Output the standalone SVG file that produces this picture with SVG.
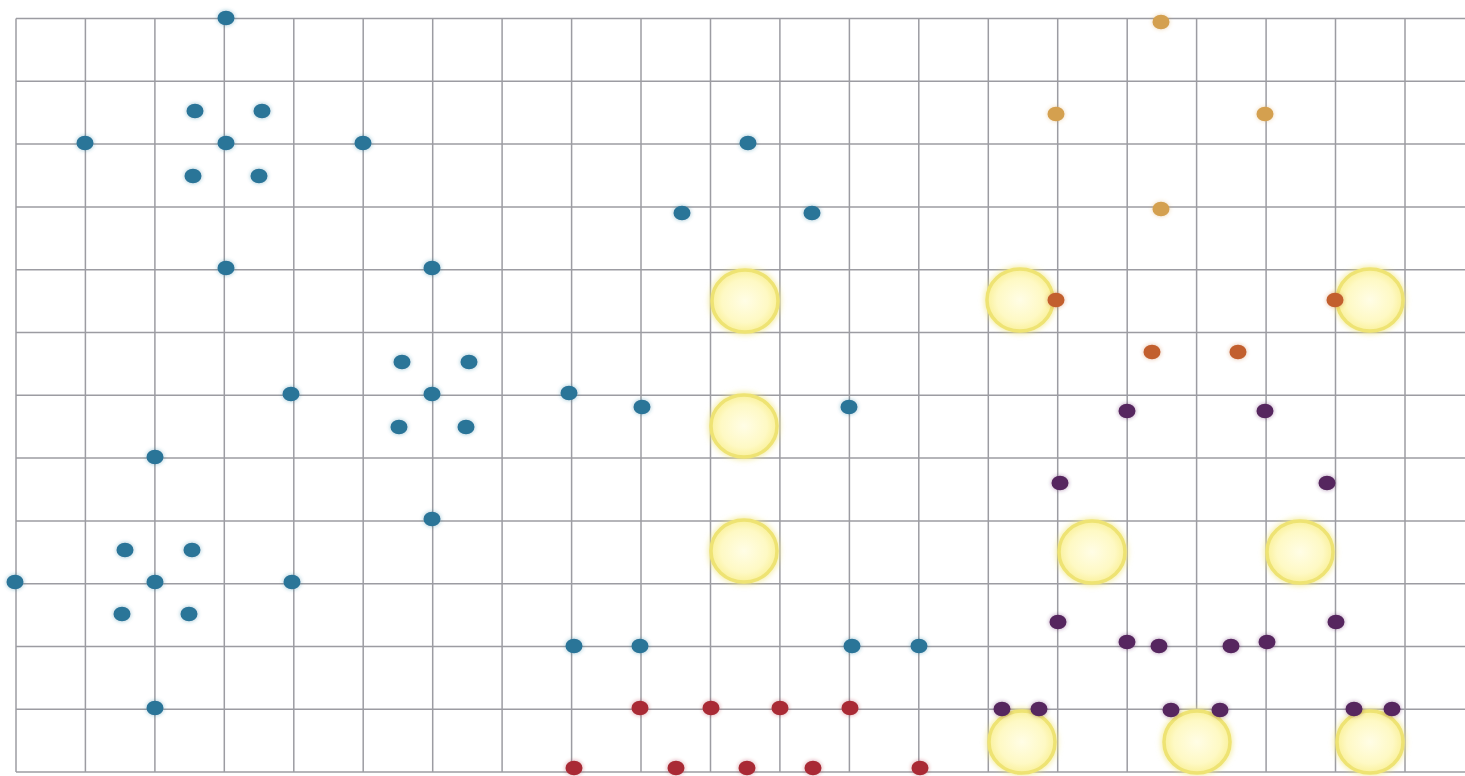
<svg xmlns="http://www.w3.org/2000/svg" width="1465" height="776" viewBox="0 0 1465 776">
<style>
.grid line{stroke:#9c9ca2;stroke-width:1.5}
.d{rx:8.5px;ry:7.3px;filter:url(#glow)}
.blue{fill:#2a7498}
.red{fill:#a92c36}
.tan{fill:#d4a04f}
.rust{fill:#c25f2e}
.purple{fill:#57265f}
.sun{fill:url(#sunfill);stroke:#eee373;stroke-width:3.5;filter:url(#sunglow)}
</style>
<defs>
<filter id="glow" x="-60%" y="-60%" width="220%" height="220%">
<feGaussianBlur in="SourceGraphic" stdDeviation="2.2" result="b"/>
<feComponentTransfer in="b" result="bb"><feFuncA type="linear" slope="0.45"/></feComponentTransfer>
<feMerge><feMergeNode in="bb"/><feMergeNode in="SourceGraphic"/></feMerge>
</filter>
<filter id="sunglow" x="-30%" y="-30%" width="160%" height="160%">
<feGaussianBlur in="SourceGraphic" stdDeviation="3" result="b"/>
<feMerge><feMergeNode in="b"/><feMergeNode in="SourceGraphic"/></feMerge>
</filter>
<radialGradient id="sunfill" cx="50%" cy="50%" r="50%">
<stop offset="0" stop-color="#fffde6"/>
<stop offset="0.7" stop-color="#fef9c4"/>
<stop offset="1" stop-color="#faf19c"/>
</radialGradient>
</defs>
<rect width="1465" height="776" fill="#ffffff"/>
<g id="grid" class="grid">
<line x1="16" y1="18.5" x2="1465" y2="18.5"/>
<line x1="16" y1="81.3" x2="1465" y2="81.3"/>
<line x1="16" y1="144.1" x2="1465" y2="144.1"/>
<line x1="16" y1="206.9" x2="1465" y2="206.9"/>
<line x1="16" y1="269.7" x2="1465" y2="269.7"/>
<line x1="16" y1="332.5" x2="1465" y2="332.5"/>
<line x1="16" y1="395.3" x2="1465" y2="395.3"/>
<line x1="16" y1="458.1" x2="1465" y2="458.1"/>
<line x1="16" y1="520.9" x2="1465" y2="520.9"/>
<line x1="16" y1="583.7" x2="1465" y2="583.7"/>
<line x1="16" y1="646.5" x2="1465" y2="646.5"/>
<line x1="16" y1="709.3" x2="1465" y2="709.3"/>
<line x1="16" y1="772.1" x2="1465" y2="772.1"/>
<line x1="16" y1="18.5" x2="16" y2="772"/>
<line x1="85.4" y1="18.5" x2="85.4" y2="772"/>
<line x1="154.9" y1="18.5" x2="154.9" y2="772"/>
<line x1="224.3" y1="18.5" x2="224.3" y2="772"/>
<line x1="293.8" y1="18.5" x2="293.8" y2="772"/>
<line x1="363.2" y1="18.5" x2="363.2" y2="772"/>
<line x1="432.7" y1="18.5" x2="432.7" y2="772"/>
<line x1="502.1" y1="18.5" x2="502.1" y2="772"/>
<line x1="571.6" y1="18.5" x2="571.6" y2="772"/>
<line x1="641" y1="18.5" x2="641" y2="772"/>
<line x1="710.5" y1="18.5" x2="710.5" y2="772"/>
<line x1="779.9" y1="18.5" x2="779.9" y2="772"/>
<line x1="849.4" y1="18.5" x2="849.4" y2="772"/>
<line x1="918.8" y1="18.5" x2="918.8" y2="772"/>
<line x1="988.3" y1="18.5" x2="988.3" y2="772"/>
<line x1="1057.7" y1="18.5" x2="1057.7" y2="772"/>
<line x1="1127.2" y1="18.5" x2="1127.2" y2="772"/>
<line x1="1196.6" y1="18.5" x2="1196.6" y2="772"/>
<line x1="1266.1" y1="18.5" x2="1266.1" y2="772"/>
<line x1="1335.5" y1="18.5" x2="1335.5" y2="772"/>
<line x1="1405" y1="18.5" x2="1405" y2="772"/>
</g>
<g id="connectors"></g>
<g id="suns">
<ellipse class="sun" cx="745" cy="301" rx="33" ry="31"/>
<ellipse class="sun" cx="744" cy="426" rx="33" ry="31"/>
<ellipse class="sun" cx="744" cy="551" rx="33" ry="31"/>
<ellipse class="sun" cx="1020" cy="300" rx="33" ry="31"/>
<ellipse class="sun" cx="1370" cy="300" rx="33" ry="31"/>
<ellipse class="sun" cx="1092" cy="552" rx="33" ry="31"/>
<ellipse class="sun" cx="1300" cy="552" rx="33" ry="31"/>
<ellipse class="sun" cx="1022" cy="742" rx="33" ry="31"/>
<ellipse class="sun" cx="1197" cy="742" rx="33" ry="31"/>
<ellipse class="sun" cx="1370" cy="742" rx="33" ry="31"/>
</g>
<g id="cluster-top-left" class="blue">
<ellipse class="d" cx="226" cy="18"/>
<ellipse class="d" cx="195" cy="111"/>
<ellipse class="d" cx="262" cy="111"/>
<ellipse class="d" cx="85" cy="143"/>
<ellipse class="d" cx="226" cy="143"/>
<ellipse class="d" cx="363" cy="143"/>
<ellipse class="d" cx="193" cy="176"/>
<ellipse class="d" cx="259" cy="176"/>
<ellipse class="d" cx="226" cy="268"/>
</g>
<g id="cluster-mid-left" class="blue">
<ellipse class="d" cx="432" cy="268"/>
<ellipse class="d" cx="402" cy="362"/>
<ellipse class="d" cx="469" cy="362"/>
<ellipse class="d" cx="291" cy="394"/>
<ellipse class="d" cx="432" cy="394"/>
<ellipse class="d" cx="399" cy="427"/>
<ellipse class="d" cx="466" cy="427"/>
<ellipse class="d" cx="432" cy="519"/>
</g>
<g id="cluster-bottom-left" class="blue">
<ellipse class="d" cx="155" cy="457"/>
<ellipse class="d" cx="125" cy="550"/>
<ellipse class="d" cx="192" cy="550"/>
<ellipse class="d" cx="15" cy="582"/>
<ellipse class="d" cx="155" cy="582"/>
<ellipse class="d" cx="292" cy="582"/>
<ellipse class="d" cx="122" cy="614"/>
<ellipse class="d" cx="189" cy="614"/>
<ellipse class="d" cx="155" cy="708"/>
</g>
<g id="cluster-middle" class="blue">
<ellipse class="d" cx="748" cy="143"/>
<ellipse class="d" cx="682" cy="213"/>
<ellipse class="d" cx="812" cy="213"/>
<ellipse class="d" cx="569" cy="393"/>
<ellipse class="d" cx="642" cy="407"/>
<ellipse class="d" cx="849" cy="407"/>
<ellipse class="d" cx="574" cy="646"/>
<ellipse class="d" cx="640" cy="646"/>
<ellipse class="d" cx="852" cy="646"/>
<ellipse class="d" cx="919" cy="646"/>
</g>
<g id="cluster-red" class="red">
<ellipse class="d" cx="640" cy="708"/>
<ellipse class="d" cx="711" cy="708"/>
<ellipse class="d" cx="780" cy="708"/>
<ellipse class="d" cx="850" cy="708"/>
<ellipse class="d" cx="574" cy="768"/>
<ellipse class="d" cx="676" cy="768"/>
<ellipse class="d" cx="747" cy="768"/>
<ellipse class="d" cx="813" cy="768"/>
<ellipse class="d" cx="920" cy="768"/>
</g>
<g id="cluster-tan" class="tan">
<ellipse class="d" cx="1161" cy="22"/>
<ellipse class="d" cx="1056" cy="114"/>
<ellipse class="d" cx="1265" cy="114"/>
<ellipse class="d" cx="1161" cy="209"/>
</g>
<g id="cluster-rust" class="rust">
<ellipse class="d" cx="1056" cy="300"/>
<ellipse class="d" cx="1335" cy="300"/>
<ellipse class="d" cx="1152" cy="352"/>
<ellipse class="d" cx="1238" cy="352"/>
</g>
<g id="cluster-purple" class="purple">
<ellipse class="d" cx="1127" cy="411"/>
<ellipse class="d" cx="1265" cy="411"/>
<ellipse class="d" cx="1060" cy="483"/>
<ellipse class="d" cx="1327" cy="483"/>
<ellipse class="d" cx="1058" cy="622"/>
<ellipse class="d" cx="1336" cy="622"/>
<ellipse class="d" cx="1127" cy="642"/>
<ellipse class="d" cx="1159" cy="646"/>
<ellipse class="d" cx="1231" cy="646"/>
<ellipse class="d" cx="1267" cy="642"/>
<ellipse class="d" cx="1002" cy="709"/>
<ellipse class="d" cx="1039" cy="709"/>
<ellipse class="d" cx="1171" cy="710"/>
<ellipse class="d" cx="1220" cy="710"/>
<ellipse class="d" cx="1354" cy="709"/>
<ellipse class="d" cx="1392" cy="709"/>
</g>
</svg>
